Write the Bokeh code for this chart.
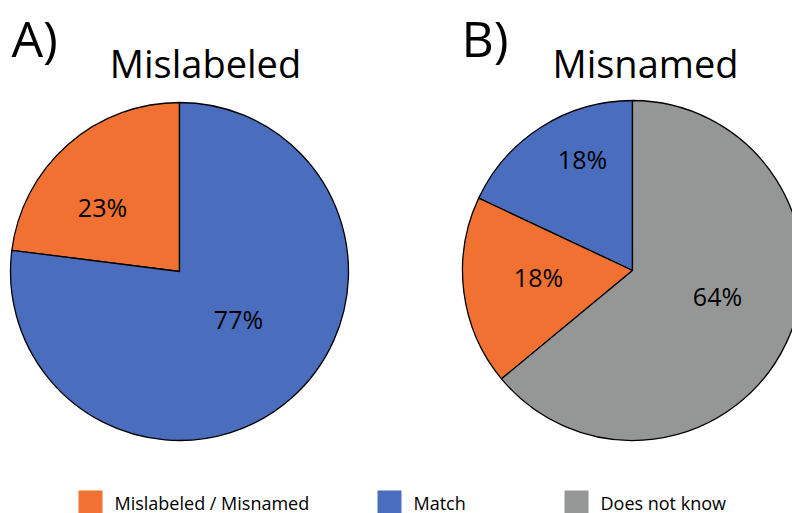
import numpy as np
from bokeh.plotting import figure
from bokeh.models import Range1d, ColumnDataSource
from bokeh.core.properties import value
from bokeh.embed import file_html
from bokeh.resources import INLINE

# ---- data ----
categories = ["Mislabeled / Misnamed", "Match", "Does not know"]
cat_colors = ["#F07131", "#4A6DBE", "#959797"]

pie_a_title = "Mislabeled"
pie_a_cats = ["Mislabeled / Misnamed", "Match"]
pie_a_vals = [23, 77]

pie_b_title = "Misnamed"
pie_b_cats = ["Match", "Mislabeled / Misnamed", "Does not know"]
pie_b_vals = [18, 18, 64]

# ---- layout (pixel space) ----
W, H = 792, 513
FONT = value("Open Sans")
color_of = dict(zip(categories, cat_colors))

p = figure(width=W, height=H, x_range=Range1d(0, W), y_range=Range1d(0, H),
           min_border=0, toolbar_location=None, output_backend="svg")
p.axis.visible = False
p.grid.visible = False
p.outline_line_color = None
p.background_fill_color = "white"


def Y(py):
    return H - py


def draw_pie(cx, cy, r, cats, vals, label_pos):
    vals = np.array(vals, dtype=float)
    frac = vals / vals.sum()
    ends = np.pi / 2 + 2 * np.pi * np.cumsum(frac)
    starts = np.concatenate([[np.pi / 2], ends[:-1]])
    src = ColumnDataSource(dict(
        start=starts, end=ends,
        color=[color_of[c] for c in cats],
    ))
    p.wedge(x=cx, y=Y(cy), radius=r, start_angle="start", end_angle="end",
            fill_color="color", line_color="black",
            line_width=1.3, source=src)
    labels = ["%d%%" % round(v) for v in vals]
    p.text(x=[lp[0] for lp in label_pos], y=[Y(lp[1]) for lp in label_pos],
           text=labels, text_font=FONT, text_font_size="25px",
           text_align="center", text_baseline="middle", text_color="black")


draw_pie(179, 271, 169, pie_a_cats, pie_a_vals, [(102, 206), (238, 318)])
draw_pie(632, 270, 170, pie_b_cats, pie_b_vals, [(582, 158), (538, 276), (717, 295)])

# panel letters and titles
p.text(x=[11, 461], y=[Y(37), Y(37)], text=["A)", "B)"], text_font=FONT,
       text_font_size="50px", text_align="left", text_baseline="middle",
       text_color="black")
p.text(x=[205, 645], y=[Y(62), Y(62)], text=[pie_a_title, pie_b_title],
       text_font=FONT, text_font_size="38px", text_align="center",
       text_baseline="middle", text_color="black")

# legend
leg_x = [78, 377, 564]
sq = 24
p.quad(left=leg_x, right=[x + sq for x in leg_x],
       bottom=[Y(513)] * 3, top=[Y(490)] * 3,
       fill_color=cat_colors, line_color=None)
p.text(x=[x + 36 for x in leg_x], y=[Y(502)] * 3, text=categories,
       text_font=FONT, text_font_size="18px", text_align="left",
       text_baseline="middle", text_color="black")

open("out.html", "w").write(file_html(p, INLINE))
